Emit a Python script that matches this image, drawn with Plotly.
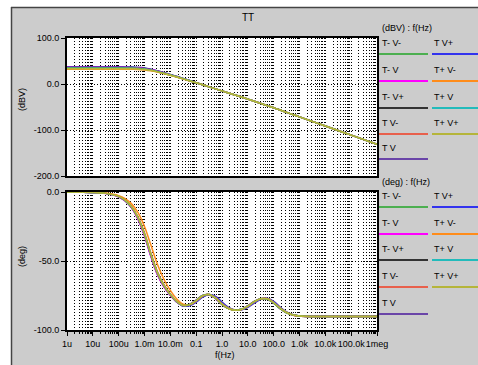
import plotly.graph_objects as go

# ---------------- data ----------------
FREQ_HZ = [1e-6, 3.16e-6, 1e-5, 3.16e-5, 1e-4, 1.78e-4, 3.16e-4, 5.62e-4, 1e-3, 1.78e-3,
           3.16e-3, 5.62e-3, 1e-2, 1.78e-2, 3.16e-2, 5.62e-2, 0.1, 0.178, 0.316, 0.562,
           1, 1.78, 3.16, 5.62, 10, 17.8, 31.6, 56.2, 100, 178, 316, 562, 1e3, 3.16e3,
           1e4, 1e5, 1e6]

SERIES = ["T- V-", "T- V", "T- V+", "T V-", "T V", "T V+", "T+ V-", "T+ V", "T+ V+"]
COLORS = ["#4caf50", "#ff00ff", "#333333", "#e8604c", "#6a45a8", "#3333ee", "#ff8c1a", "#22bbbb", "#b5b53a"]

MAG_TAIL = [2.6, -1.8, -6.2, -10.6, -15.0, -19.4, -23.8, -28.3, -32.9, -37.5, -42.2, -47.0,
            -51.8, -56.7, -61.6, -66.5, -71.5, -81.4, -91.3, -111.1, -130.9]
MAG_HEAD = {
    "T- V-": [35.0, 35.0, 35.0, 35.0, 35.0, 34.9, 34.6, 34.0, 32.8, 30.4, 27.2, 23.5, 19.6, 15.6, 11.4, 7.0],
    "T- V":  [35.8, 35.8, 35.8, 35.8, 35.8, 35.7, 35.4, 34.7, 33.4, 30.9, 27.6, 23.8, 19.8, 15.8, 11.5, 7.1],
    "T- V+": [36.0, 36.0, 36.0, 36.0, 36.0, 35.9, 35.6, 34.9, 33.5, 31.0, 27.7, 23.9, 19.9, 15.8, 11.5, 7.1],
    "T V-":  [34.3, 34.3, 34.3, 34.3, 34.3, 34.2, 33.9, 33.3, 32.1, 29.8, 26.7, 23.1, 19.3, 15.4, 11.3, 6.9],
    "T V":   [37.3, 37.3, 37.3, 37.3, 37.3, 37.2, 36.9, 36.2, 34.8, 32.2, 28.8, 24.9, 20.8, 16.6, 12.2, 7.7],
    "T V+":  [36.6, 36.6, 36.6, 36.6, 36.6, 36.5, 36.2, 35.5, 34.2, 31.6, 28.3, 24.4, 20.4, 16.3, 11.9, 7.4],
    "T+ V-": [32.3, 32.3, 32.3, 32.3, 32.3, 32.2, 32.0, 31.6, 30.7, 28.8, 26.0, 22.6, 18.9, 15.0, 10.9, 6.7],
    "T+ V":  [34.6, 34.6, 34.6, 34.6, 34.6, 34.5, 34.2, 33.6, 32.4, 30.1, 27.0, 23.3, 19.5, 15.5, 11.3, 7.0],
    "T+ V+": [33.2, 33.2, 33.2, 33.2, 33.2, 33.1, 32.9, 32.4, 31.4, 29.3, 26.4, 22.9, 19.1, 15.2, 11.1, 6.8],
}

PHASE = {
    "T- V-": [0.0, -0.1, -0.3, -1.0, -3.3, -6.2, -11.0, -19.0, -31.0, -46.0, -59.0, -68.0, -74.5, -79.5, -82.3, -81.5, -78.5, -75.0, -74.3, -77.0, -81.5, -84.5, -85.6, -85.0, -82.5, -79.3, -77.3, -77.5, -80.5, -84.5, -87.5, -89.2, -89.9, -90.2, -90.3, -90.3, -90.3],
    "T- V":  [0.0, -0.1, -0.3, -1.1, -3.5, -6.5, -11.5, -19.8, -32.0, -47.0, -60.0, -68.8, -75.0, -79.8, -82.4, -81.4, -78.3, -74.9, -74.4, -77.2, -81.6, -84.5, -85.5, -84.9, -82.4, -79.2, -77.3, -77.6, -80.6, -84.6, -87.6, -89.3, -89.9, -90.2, -90.3, -90.3, -90.3],
    "T- V+": [0.0, -0.1, -0.3, -1.0, -3.4, -6.3, -11.2, -19.3, -31.4, -46.4, -59.4, -68.3, -74.7, -79.6, -82.3, -81.4, -78.4, -75.0, -74.4, -77.1, -81.5, -84.5, -85.6, -85.0, -82.5, -79.3, -77.4, -77.6, -80.6, -84.5, -87.5, -89.2, -89.9, -90.2, -90.3, -90.3, -90.3],
    "T V-":  [0.0, -0.1, -0.3, -0.9, -3.1, -5.8, -10.3, -18.0, -29.6, -44.4, -57.6, -67.0, -73.8, -79.0, -82.1, -81.7, -78.8, -75.3, -74.2, -76.6, -81.0, -84.2, -85.6, -85.2, -82.8, -79.6, -77.4, -77.3, -80.1, -84.2, -87.3, -89.1, -89.9, -90.2, -90.3, -90.3, -90.3],
    "T V":   [0.0, -0.1, -0.3, -1.0, -3.3, -6.2, -11.0, -19.0, -31.0, -46.0, -59.0, -68.0, -74.6, -79.7, -82.6, -82.3, -79.8, -76.2, -74.3, -75.6, -79.8, -83.6, -85.5, -85.5, -83.6, -80.5, -77.8, -77.0, -79.2, -83.4, -86.9, -88.9, -89.8, -90.2, -90.3, -90.3, -90.3],
    "T V+":  [0.0, -0.1, -0.3, -1.0, -3.4, -6.3, -11.2, -19.3, -31.3, -46.3, -59.3, -68.2, -74.7, -79.8, -82.7, -82.2, -79.6, -76.0, -74.2, -75.8, -80.1, -83.8, -85.6, -85.4, -83.4, -80.2, -77.6, -77.1, -79.5, -83.7, -87.1, -89.0, -89.8, -90.2, -90.3, -90.3, -90.3],
    "T+ V-": [0.0, -0.1, -0.2, -0.8, -2.6, -4.8, -8.6, -15.0, -25.0, -38.6, -52.4, -63.2, -71.3, -77.5, -81.3, -81.6, -79.0, -75.4, -74.3, -76.8, -81.2, -84.4, -85.6, -85.1, -82.7, -79.5, -77.4, -77.4, -80.3, -84.3, -87.4, -89.1, -89.9, -90.2, -90.3, -90.3, -90.3],
    "T+ V":  [0.0, -0.1, -0.3, -1.0, -3.2, -6.0, -10.8, -18.6, -30.4, -45.3, -58.4, -67.6, -74.2, -79.3, -82.2, -81.6, -78.6, -75.1, -74.3, -76.9, -81.4, -84.4, -85.6, -85.0, -82.6, -79.4, -77.3, -77.5, -80.4, -84.4, -87.5, -89.2, -89.9, -90.2, -90.3, -90.3, -90.3],
    "T+ V+": [0.0, -0.1, -0.3, -1.0, -3.2, -6.0, -10.7, -18.5, -30.3, -45.2, -58.3, -67.5, -74.2, -79.3, -82.2, -81.6, -78.7, -75.2, -74.2, -76.8, -81.3, -84.4, -85.6, -85.1, -82.7, -79.5, -77.4, -77.4, -80.2, -84.2, -87.3, -89.1, -89.9, -90.2, -90.3, -90.3, -90.3],
}

X_TICK_VALS = [1e-6, 1e-5, 1e-4, 1e-3, 1e-2, 1e-1, 1, 10, 100, 1e3, 1e4, 1e5, 1e6]
X_TICK_TEXT = ["1u", "10u", "100u", "1.0m", "10.0m", "0.1", "1.0", "10.0", "100.0", "1.0k", "10.0k", "100.0k", "1meg"]
MAG_TICKS = [100, 0, -100, -200]
MAG_TICK_TEXT = ["100.0", "0.0", "-100.0", "-200.0"]
PH_TICKS = [0, -50, -100]
PH_TICK_TEXT = ["0.0", "-50.0", "-100.0"]

DRAW_ORDER = ["T V", "T V+", "T V-", "T- V+", "T- V", "T+ V", "T+ V-", "T- V-", "T+ V+"]

# ---------------- layout geometry ----------------
W, H = 478, 365
ML, MR, MT, MB = 67, 101, 38, 35
PW = W - ML - MR
PH = H - MT - MB
FONT = "Liberation Sans, Arial, sans-serif"


def px(x):
    return (x - ML) / PW


def py(y):
    return (H - MB - y) / PH


minor_vals = []
for d in X_TICK_VALS[:-1]:
    for k in range(2, 10):
        minor_vals.append(d * k)

fig = go.Figure()
color_of = dict(zip(SERIES, COLORS))
for name in DRAW_ORDER:
    mag = MAG_HEAD[name] + MAG_TAIL
    fig.add_trace(go.Scatter(x=FREQ_HZ, y=mag, mode="lines", name=name, xaxis="x", yaxis="y",
                             line=dict(color=color_of[name], width=1.5, shape="spline"), showlegend=False))
for name in DRAW_ORDER:
    fig.add_trace(go.Scatter(x=FREQ_HZ, y=PHASE[name], mode="lines", name=name, xaxis="x2", yaxis="y2",
                             line=dict(color=color_of[name], width=1.5, shape="spline"), showlegend=False))

grid = dict(gridcolor="#000000", gridwidth=1, griddash="1px,2px")
common_x = dict(type="log", range=[-6, 6], tickvals=X_TICK_VALS, ticktext=X_TICK_TEXT,
                showline=True, linecolor="#000000", linewidth=2, mirror=True, showgrid=True,
                zeroline=False, tickangle=0, tickfont=dict(size=9, color="#000"), **grid)

fig.update_layout(
    width=W, height=H,
    margin=dict(l=ML, r=MR, t=MT, b=MB, pad=0),
    paper_bgcolor="#cccccc", plot_bgcolor="#ffffff",
    font=dict(family=FONT, size=9, color="#000000"),
    xaxis=dict(anchor="y", matches="x2", showticklabels=False, ticks="",
               minor=dict(tickvals=minor_vals, showgrid=True, ticks="", **grid), **common_x),
    xaxis2=dict(anchor="y2", ticks="outside", ticklen=4, tickcolor="#000",
                minor=dict(tickvals=minor_vals, showgrid=True, ticks="outside", ticklen=2, tickcolor="#000", **grid),
                **common_x),
    yaxis=dict(domain=[py(176), 1], range=[-200, 100], tickvals=MAG_TICKS, ticktext=MAG_TICK_TEXT,
               showline=True, linecolor="#000", linewidth=2, mirror=True, ticks="outside", ticklen=4,
               tickcolor="#000", zeroline=False, showgrid=True, tickfont=dict(size=9), **grid),
    yaxis2=dict(domain=[0, py(192)], range=[-100, 0], tickvals=PH_TICKS, ticktext=PH_TICK_TEXT,
                showline=True, linecolor="#000", linewidth=2, mirror=True, ticks="outside", ticklen=4,
                tickcolor="#000", zeroline=False, showgrid=True, tickfont=dict(size=9), **grid),
)

shapes = [
    dict(type="rect", xref="paper", yref="paper", x0=px(0), x1=px(W), y0=py(7), y1=py(0),
         fillcolor="#ffffff", line=dict(width=0), layer="below"),
    dict(type="rect", xref="paper", yref="paper", x0=px(0), x1=px(11), y0=py(H), y1=py(0),
         fillcolor="#ffffff", line=dict(width=0), layer="below"),
    dict(type="line", xref="paper", yref="paper", x0=px(11), x1=px(W), y0=py(7.5), y1=py(7.5),
         line=dict(color="#444444", width=1.5), layer="below"),
    dict(type="line", xref="paper", yref="paper", x0=px(11.5), x1=px(11.5), y0=py(7), y1=py(H),
         line=dict(color="#444444", width=1.5), layer="below"),
]
annotations = [
    dict(text="TT", x=px(248), y=py(18), xref="paper", yref="paper", showarrow=False,
         font=dict(size=10), xanchor="center", yanchor="middle"),
    dict(text="(dBV)", x=px(22), y=py(100), xref="paper", yref="paper", showarrow=False,
         textangle=-90, font=dict(size=9), xanchor="center", yanchor="middle"),
    dict(text="(deg)", x=px(22), y=py(257), xref="paper", yref="paper", showarrow=False,
         textangle=-90, font=dict(size=9), xanchor="center", yanchor="middle"),
    dict(text="f(Hz)", x=px(225), y=py(355), xref="paper", yref="paper", showarrow=False,
         font=dict(size=9), xanchor="center", yanchor="middle"),
]

# legend blocks
col_text_x = [380, 432]
col_line_x = [(379, 428), (432, 478)]
blocks = [("(dBV) : f(Hz)", 28, [43, 70, 97, 123, 148]),
          ("(deg) : f(Hz)", 182, [196, 223, 249, 276, 303])]
col1 = SERIES[:5]
col2 = SERIES[5:]
for header, hy, rows in blocks:
    annotations.append(dict(text=header, x=px(380), y=py(hy), xref="paper", yref="paper", showarrow=False,
                            font=dict(size=9), xanchor="left", yanchor="middle"))
    for ci, names in enumerate([col1, col2]):
        for ri, name in enumerate(names):
            ty = rows[ri]
            annotations.append(dict(text=name, x=px(col_text_x[ci]), y=py(ty), xref="paper", yref="paper",
                                    showarrow=False, font=dict(size=9), xanchor="left", yanchor="middle"))
            ly = ty + 11
            shapes.append(dict(type="line", xref="paper", yref="paper",
                               x0=px(col_line_x[ci][0]), x1=px(col_line_x[ci][1]), y0=py(ly), y1=py(ly),
                               line=dict(color=color_of[name], width=2)))

fig.update_layout(shapes=shapes, annotations=annotations)
fig.write_html("out.html", config={"displayModeBar": False},
               post_script="document.body.style.margin='0';document.body.style.overflow='hidden';")
